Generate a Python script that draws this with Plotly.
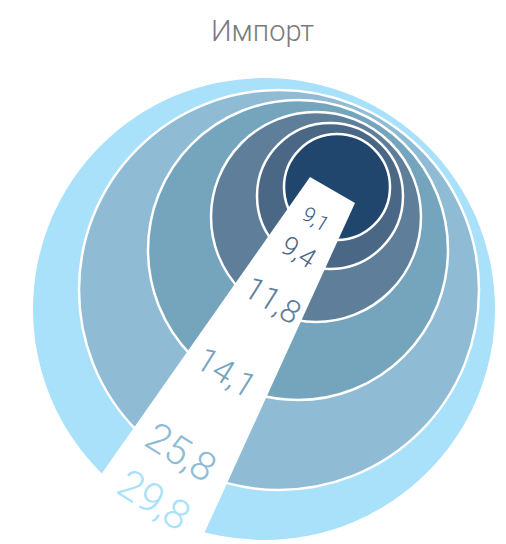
import plotly.graph_objects as go

# Data
labels = ["29,8", "25,8", "14,1", "11,8", "9,4", "9,1"]
values = [29.8, 25.8, 14.1, 11.8, 9.4, 9.1]
title_text = "Импорт"

# Styling / layout geometry (pixel-space, axes map 1 unit = 1 px)
ring_colors = ["#a9e1fa", "#8fbbd4", "#74a5bd", "#5e7e99", "#4a6886", "#21466d"]
label_colors = ["#a9e1fa", "#8fbbd4", "#74a5bd", "#5e7e99", "#4a6886", "#3a5a7e"]
centers_x = [264, 279, 298, 316, 330, 337]
centers_y = [309, 290, 250, 217, 196, 187]
radii = [231, 200, 150, 105, 73, 53]
label_x = [154, 181, 226, 272, 298, 315]
label_y = [500, 452, 372, 300, 252, 219]
label_size = [41, 40, 34, 32, 27, 21]

W, H = 506, 544
OFF = 8  # page body margin compensation

fig = go.Figure()
fig.add_trace(go.Scatter(x=[OFF, W + OFF], y=[OFF, H + OFF], mode="markers",
                         marker=dict(opacity=0), hoverinfo="skip", showlegend=False))

shapes = []
for i in range(len(values)):
    cx, cy, r = centers_x[i], centers_y[i], radii[i]
    shapes.append(dict(type="circle", xref="x", yref="y",
                       x0=cx - r, x1=cx + r, y0=cy - r, y1=cy + r,
                       fillcolor=ring_colors[i],
                       line=dict(color="white", width=2.5 if i > 0 else 0),
                       layer="above"))

# white wedge cut
shapes.append(dict(type="path", xref="x", yref="y",
                   path="M 310 177 L 355 203 L 192 560 L 41 560 Z",
                   fillcolor="white", line=dict(width=0), layer="above"))

annotations = [dict(x=262, y=31, xref="x", yref="y", text=title_text, showarrow=False,
                    font=dict(family="Roboto", size=29, color="#7a7a7a", weight=300))]
for i in range(len(values)):
    annotations.append(dict(x=label_x[i], y=label_y[i], xref="x", yref="y",
                            text=labels[i], showarrow=False, textangle=32,
                            font=dict(family="Roboto", size=label_size[i],
                                      color=label_colors[i], weight=300)))

fig.update_layout(
    width=W, height=H,
    margin=dict(l=0, r=0, t=0, b=0),
    paper_bgcolor="white", plot_bgcolor="white",
    xaxis=dict(range=[OFF, W + OFF], visible=False, fixedrange=True),
    yaxis=dict(range=[H + OFF, OFF], visible=False, fixedrange=True),
    shapes=shapes, annotations=annotations, showlegend=False,
)

fig.write_html("out.html")
